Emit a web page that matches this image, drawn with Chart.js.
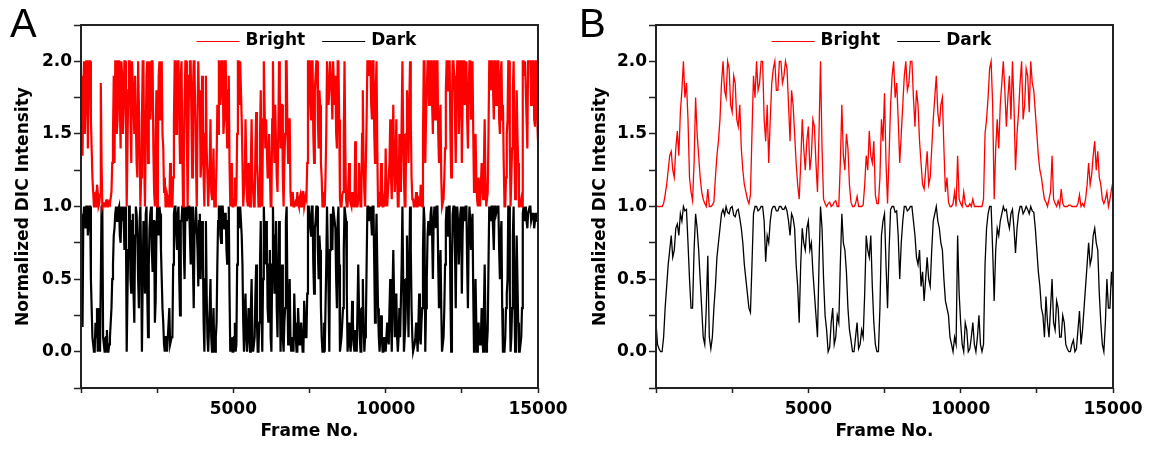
<!DOCTYPE html>
<html>
<head>
<meta charset="utf-8">
<script src="https://cdn.jsdelivr.net/npm/chart.js@4.4.0/dist/chart.umd.min.js"></script>
<style>
  body { margin: 0; background: #fff; width: 1154px; height: 450px; overflow: hidden; position: relative; }
  .panel { position: absolute; top: 0; width: 577px; height: 450px; }
  .tag { position: absolute; font-family: "Liberation Sans", Arial, sans-serif; font-size: 40px; line-height: 40px; color: #000; }
</style>
</head>
<body>
<div class="panel" style="left:0"><canvas id="chartA" width="577" height="450"></canvas></div>
<div class="panel" style="left:577px"><canvas id="chartB" width="577" height="450"></canvas></div>
<div class="tag" style="left:10px;top:3px">A</div>
<div class="tag" style="left:579px;top:3px">B</div>
<script>
// Panel A: one sample every 25 frames, 0..15000
const stepA = 25;
const brightA = [
  1.9, 1.6, 1.35, 1.8, 2.0, 1.5, 1.7, 2.0, 2.0, 1.4,
  1.85, 2.0, 2.0, 1.6, 1.4, 1.2, 1.1, 1.0, 1.0, 1.05,
  1.0, 1.15, 1.1, 1.0, 1.02, 1.08, 1.85, 1.3, 1.0, 1.02,
  1.03, 1.0, 1.0, 1.04, 1.05, 1.0, 1.0, 1.03, 1.02, 1.06,
  1.1, 1.3, 1.5, 1.9, 1.3, 2.0, 2.0, 1.5, 1.6, 2.0,
  2.0, 1.7, 1.4, 2.0, 1.9, 1.5, 1.7, 2.0, 2.0, 1.6,
  1.0, 1.4, 1.8, 2.0, 2.0, 1.6, 1.3, 2.0, 2.0, 1.7,
  1.5, 1.9, 1.9, 1.3, 1.2, 2.0, 2.0, 1.4, 1.0, 1.2,
  1.6, 2.0, 2.0, 1.3, 1.0, 1.5, 1.9, 2.0, 1.3, 1.8,
  2.0, 1.6, 1.7, 2.0, 2.0, 1.4, 1.1, 1.0, 1.5, 1.8,
  1.0, 1.4, 1.9, 2.0, 1.6, 1.9, 2.0, 1.5, 1.4, 1.1,
  1.2, 1.0, 1.0, 1.08, 1.05, 1.0, 1.0, 1.3, 1.15, 1.0,
  1.0, 1.2, 1.6, 2.0, 2.0, 1.5, 1.8, 2.0, 2.0, 1.6,
  1.3, 1.9, 2.0, 1.4, 1.0, 1.3, 1.7, 2.0, 2.0, 1.5,
  1.0, 1.5, 1.9, 2.0, 2.0, 1.6, 1.2, 1.8, 2.0, 2.0,
  1.6, 1.3, 1.0, 1.6, 2.0, 1.7, 1.8, 1.2, 1.3, 1.9,
  1.7, 1.2, 1.0, 1.5, 1.9, 1.4, 1.2, 1.0, 1.0, 1.3,
  1.6, 1.1, 1.05, 1.2, 1.4, 1.0, 1.0, 1.1, 1.3, 1.7,
  1.5, 2.0, 2.0, 1.7, 1.8, 2.0, 2.0, 1.5, 1.6, 2.0,
  2.0, 1.6, 1.4, 1.8, 1.9, 1.3, 1.0, 1.05, 1.3, 1.0,
  1.0, 1.05, 1.2, 1.0, 1.05, 1.5, 2.0, 2.0, 1.7, 2.0,
  2.0, 1.6, 1.3, 1.0, 1.0, 1.2, 1.6, 1.3, 1.05, 1.0,
  1.3, 1.1, 1.0, 1.3, 1.6, 1.2, 1.1, 1.0, 1.0, 1.4,
  1.65, 1.3, 1.2, 1.0, 1.0, 1.5, 1.8, 1.2, 1.0, 1.6,
  2.0, 1.7, 1.4, 1.6, 1.6, 1.2, 1.2, 1.5, 1.5, 1.0,
  1.0, 1.6, 2.0, 1.5, 1.3, 1.7, 1.7, 1.2, 1.1, 1.5,
  2.0, 1.8, 1.4, 1.7, 1.7, 1.2, 1.0, 1.3, 1.5, 2.0,
  2.0, 1.5, 1.3, 1.6, 1.6, 1.1, 1.0, 1.0, 1.1, 1.0,
  1.0, 1.03, 1.05, 1.0, 1.1, 1.02, 1.0, 1.06, 1.08, 1.0,
  1.02, 1.1, 1.1, 1.0, 1.0, 1.07, 1.05, 1.3, 2.0, 2.0,
  2.0, 1.7, 1.6, 2.0, 2.0, 1.5, 1.3, 1.8, 1.9, 2.0,
  2.0, 1.6, 1.4, 1.8, 1.7, 1.3, 1.2, 1.0, 1.0, 1.1,
  1.0, 1.2, 1.5, 2.0, 2.0, 1.7, 1.8, 2.0, 2.0, 1.8,
  1.6, 2.0, 2.0, 1.7, 1.9, 1.5, 1.4, 2.0, 2.0, 1.6,
  1.05, 1.0, 1.0, 1.08, 1.1, 1.5, 2.0, 1.4, 1.05, 1.0,
  1.0, 1.15, 1.3, 1.05, 1.02, 1.0, 1.1, 1.02, 1.0, 1.0,
  1.45, 1.1, 1.0, 1.0, 1.05, 1.3, 1.3, 1.0, 1.0, 1.5,
  1.8, 1.3, 1.1, 1.0, 1.0, 1.6, 2.0, 2.0, 1.9, 2.0,
  2.0, 1.7, 1.6, 2.0, 2.0, 1.5, 1.3, 1.8, 2.0, 1.4,
  1.0, 1.05, 1.1, 1.0, 1.3, 1.2, 1.0, 1.0, 1.05, 1.0,
  1.4, 1.1, 1.0, 1.0, 1.2, 1.3, 1.6, 1.2, 1.05, 1.4,
  1.7, 1.3, 1.1, 1.3, 1.6, 1.2, 1.0, 1.0, 1.5, 1.2,
  1.1, 1.6, 2.0, 1.5, 1.2, 1.0, 1.0, 1.5, 1.8, 1.6,
  1.3, 1.7, 2.0, 1.6, 1.2, 1.05, 1.05, 1.0, 1.0, 1.02,
  1.1, 1.0, 1.0, 1.06, 1.05, 1.0, 1.15, 1.03, 1.0, 1.5,
  2.0, 2.0, 1.3, 1.6, 1.6, 2.0, 2.0, 1.7, 1.9, 2.0,
  2.0, 1.7, 1.5, 2.0, 2.0, 1.6, 1.8, 2.0, 2.0, 1.5,
  1.3, 1.6, 1.7, 1.2, 1.0, 1.0, 1.05, 1.2, 1.4, 1.8,
  2.0, 2.0, 1.8, 2.0, 2.0, 1.5, 1.2, 1.7, 2.0, 2.0,
  1.9, 1.6, 1.3, 1.8, 2.0, 2.0, 1.5, 1.7, 2.0, 2.0,
  1.3, 1.7, 2.0, 2.0, 1.7, 1.9, 2.0, 1.6, 1.4, 1.8,
  2.0, 2.0, 1.6, 1.8, 2.0, 1.5, 1.1, 1.3, 1.5, 1.2,
  1.05, 1.0, 1.2, 1.1, 1.0, 1.0, 1.3, 1.15, 1.05, 1.3,
  1.6, 1.2, 1.0, 1.0, 1.1, 1.5, 2.0, 2.0, 1.8, 2.0,
  2.0, 1.8, 1.6, 2.0, 2.0, 1.7, 1.9, 2.0, 2.0, 1.6,
  1.5, 1.9, 2.0, 1.6, 1.7, 1.3, 1.0, 1.0, 1.2, 1.5,
  1.6, 2.0, 2.0, 1.4, 1.0, 1.2, 1.4, 1.8, 2.0, 1.5,
  1.05, 1.3, 1.8, 1.5, 1.3, 1.0, 1.0, 1.02, 1.05, 1.0,
  2.0, 2.0, 1.9, 2.0, 2.0, 1.6, 1.4, 2.0, 2.0, 2.0,
  2.0, 1.7, 1.8, 2.0, 2.0, 1.6, 1.55, 2.0, 2.0, 1.6,
  1.45
];
const darkA = [
  0.95, 0.6, 0.17, 0.9, 1.0, 0.9, 0.85, 1.0, 1.0, 0.8,
  0.9, 1.0, 1.0, 0.5, 0.3, 0.1, 0.05, 0.0, 0.0, 0.2,
  0.1, 0.3, 0.0, 0.15, 0.3, 0.0, 0.0, 1.0, 1.0, 0.1,
  0.05, 0.0, 0.0, 0.1, 0.15, 0.0, 0.0, 0.05, 0.1, 0.2,
  0.3, 0.5, 0.6, 0.8, 0.85, 0.95, 1.0, 0.9, 0.9, 0.98,
  1.0, 0.8, 0.75, 0.95, 1.0, 0.9, 0.95, 0.7, 1.0, 0.85,
  0.0, 0.4, 0.7, 1.0, 1.0, 0.5, 0.4, 0.9, 0.95, 0.4,
  0.2, 0.8, 1.0, 0.95, 0.8, 0.5, 0.3, 0.9, 1.0, 0.6,
  0.0, 0.5, 0.9, 0.7, 0.4, 0.95, 1.0, 0.4, 0.1, 0.6,
  0.85, 0.95, 1.0, 0.7, 0.55, 0.9, 0.9, 0.2, 0.35, 0.8,
  1.0, 0.9, 0.8, 1.0, 0.95, 0.7, 0.5, 0.3, 0.2, 0.05,
  0.0, 0.1, 0.1, 0.0, 0.0, 0.2, 0.3, 0.05, 0.05, 0.1,
  0.1, 0.6, 0.95, 1.0, 1.0, 0.8, 0.7, 0.95, 1.0, 0.5,
  0.25, 0.9, 0.9, 1.0, 1.0, 0.7, 0.5, 0.95, 1.0, 0.9,
  0.95, 1.0, 1.0, 0.8, 0.6, 0.95, 1.0, 0.6, 0.3, 0.8,
  0.9, 1.0, 1.0, 0.7, 0.45, 0.9, 0.95, 0.5, 0.7, 0.9,
  0.7, 0.2, 0.0, 0.5, 0.9, 0.4, 0.1, 0.0, 0.0, 0.3,
  0.5, 0.1, 0.0, 0.15, 0.3, 0.0, 0.0, 0.1, 0.2, 0.6,
  0.9, 1.0, 1.0, 0.8, 0.75, 1.0, 1.0, 0.9, 0.85, 0.95,
  0.95, 0.7, 0.6, 0.9, 1.0, 0.4, 0.0, 0.05, 0.1, 0.0,
  0.0, 0.1, 0.2, 0.0, 0.05, 0.6, 1.0, 0.95, 0.85, 1.0,
  1.0, 0.8, 0.6, 0.2, 0.0, 0.3, 0.4, 0.1, 0.0, 0.0,
  0.3, 0.1, 0.0, 0.3, 0.5, 0.1, 0.0, 0.0, 0.1, 0.4,
  0.6, 0.2, 0.0, 0.0, 0.2, 0.6, 0.9, 0.3, 0.0, 0.5,
  1.0, 0.8, 0.6, 0.9, 0.8, 0.3, 0.2, 0.6, 0.7, 0.1,
  0.0, 0.6, 1.0, 0.7, 0.4, 0.8, 0.9, 0.3, 0.1, 0.5,
  0.9, 0.5, 0.0, 0.3, 0.6, 0.1, 0.0, 0.2, 0.3, 0.9,
  1.0, 0.4, 0.05, 0.3, 0.5, 0.1, 0.0, 0.0, 0.1, 0.0,
  0.4, 0.2, 0.1, 0.0, 0.0, 0.3, 0.3, 0.05, 0.05, 0.2,
  0.2, 0.0, 0.0, 0.35, 0.35, 0.1, 0.1, 0.4, 1.0, 1.0,
  0.95, 0.85, 0.8, 1.0, 1.0, 0.6, 0.4, 0.85, 0.9, 1.0,
  1.0, 0.7, 0.5, 0.8, 0.7, 0.3, 0.1, 0.0, 0.0, 0.2,
  0.0, 0.3, 0.6, 1.0, 1.0, 0.4, 0.0, 0.7, 0.95, 0.85,
  0.7, 1.0, 1.0, 0.9, 0.85, 0.5, 0.3, 0.9, 1.0, 0.6,
  0.0, 0.05, 0.1, 0.2, 0.3, 0.7, 1.0, 0.95, 0.9, 0.4,
  0.0, 0.1, 0.2, 0.05, 0.0, 0.1, 0.35, 0.2, 0.05, 0.0,
  0.15, 0.05, 0.0, 0.3, 0.6, 0.3, 0.1, 0.0, 0.0, 0.3,
  0.5, 0.2, 0.0, 0.1, 0.2, 0.6, 1.0, 1.0, 0.9, 0.95,
  1.0, 0.9, 0.8, 1.0, 1.0, 0.6, 0.2, 0.7, 0.95, 0.6,
  0.3, 0.1, 0.0, 0.1, 0.25, 0.1, 0.0, 0.0, 0.1, 0.05,
  0.0, 0.1, 0.2, 0.1, 0.05, 0.3, 0.5, 0.2, 0.0, 0.4,
  0.7, 0.4, 0.1, 0.3, 0.4, 0.1, 0.0, 0.1, 0.3, 0.1,
  0.1, 0.6, 1.0, 0.5, 0.0, 0.1, 0.2, 0.5, 0.8, 0.4,
  0.1, 0.6, 1.0, 0.7, 0.3, 0.1, 0.0, 0.0, 0.05, 0.1,
  0.2, 0.1, 0.0, 0.2, 0.4, 0.1, 0.05, 0.2, 0.3, 0.7,
  1.0, 0.9, 0.0, 0.3, 0.5, 0.8, 0.9, 0.85, 0.8, 0.95,
  1.0, 0.8, 0.5, 0.9, 1.0, 0.95, 0.85, 1.0, 1.0, 0.6,
  0.3, 0.5, 0.7, 0.3, 0.0, 0.0, 0.1, 0.3, 0.6, 0.9,
  1.0, 0.95, 0.8, 1.0, 1.0, 0.4, 0.0, 0.6, 0.95, 1.0,
  1.0, 0.7, 0.3, 0.8, 1.0, 0.9, 0.6, 0.8, 0.95, 1.0,
  0.4, 0.8, 1.0, 0.95, 0.9, 1.0, 1.0, 0.6, 0.3, 0.8,
  1.0, 0.9, 0.7, 0.85, 0.95, 0.4, 0.0, 0.2, 0.5, 0.2,
  0.0, 0.1, 0.2, 0.05, 0.05, 0.1, 0.3, 0.1, 0.0, 0.3,
  0.6, 0.2, 0.0, 0.05, 0.15, 0.6, 1.0, 0.95, 0.9, 1.0,
  1.0, 0.85, 0.7, 1.0, 1.0, 0.95, 0.95, 1.0, 1.0, 0.7,
  0.5, 0.8, 0.9, 0.3, 0.0, 0.0, 0.0, 0.1, 0.3, 0.4,
  0.5, 1.0, 1.0, 0.4, 0.0, 0.1, 0.3, 0.8, 1.0, 0.4,
  0.0, 0.4, 0.8, 0.5, 0.2, 0.0, 0.0, 0.05, 0.1, 0.3,
  0.95, 1.0, 0.9, 0.95, 1.0, 0.9, 0.85, 0.95, 0.95, 1.0,
  1.0, 0.9, 0.9, 0.95, 0.95, 0.85, 0.85, 0.95, 0.95, 0.9,
  0.9
];

// Panel B: one sample every 50 frames, 0..15000
const stepB = 50;
const brightB = [
  1.0, 1.0, 1.0, 1.0, 1.0, 1.02, 1.08, 1.15, 1.25, 1.35,
  1.38, 1.25, 1.2, 1.4, 1.52, 1.35, 1.65, 1.8, 2.0, 1.75,
  1.85, 1.6, 1.2, 1.1, 1.04, 1.3, 1.75, 1.5, 1.35, 1.2,
  1.1, 1.05, 1.02, 1.0, 1.12, 1.0, 1.0, 1.01, 1.03, 1.2,
  1.35, 1.45, 1.6, 1.85, 2.0, 1.8, 1.75, 2.0, 1.95, 1.7,
  1.65, 1.9, 1.85, 1.6, 1.55, 1.7, 1.4, 1.25, 1.15, 1.1,
  1.05, 1.02, 1.08, 1.5, 1.9, 1.75, 2.0, 1.8, 1.85, 2.0,
  2.0, 1.6, 1.45, 1.7, 1.3, 1.6, 1.85, 1.95, 2.0, 1.8,
  1.8, 2.0, 2.0, 1.85, 1.9, 2.0, 1.95, 1.7, 1.45, 1.8,
  1.7, 1.5, 1.3, 1.15, 1.05, 1.3, 1.6, 1.4, 1.25, 1.45,
  1.55, 1.25, 1.35, 1.6, 1.55, 1.3, 1.1, 1.5, 2.0, 1.4,
  1.05, 1.02, 1.0, 1.02, 1.03, 1.0, 1.01, 1.03, 1.04, 1.0,
  1.0, 1.3, 1.7, 1.35, 1.25, 1.5, 1.4, 1.15, 1.03, 1.0,
  1.0, 1.02, 1.07, 1.0, 1.0, 1.0, 1.01, 1.15, 1.35, 1.25,
  1.52, 1.35, 1.3, 1.45, 1.08, 1.02, 1.02, 1.2, 1.6, 1.45,
  1.78, 1.3, 1.02, 1.35, 1.7, 1.9, 2.0, 1.75, 1.85, 1.6,
  1.3, 1.5, 1.7, 1.9, 2.0, 1.8, 1.85, 2.0, 2.0, 1.75,
  1.55, 1.8, 1.7, 1.45, 1.3, 1.15, 1.12, 1.25, 1.38, 1.15,
  1.2, 1.4, 1.6, 1.75, 1.9, 1.65, 1.55, 1.7, 1.75, 1.4,
  1.1, 1.2, 1.03, 1.0, 1.0, 1.02, 1.1, 1.0, 1.35, 1.05,
  1.02, 1.0, 1.1, 1.02, 1.0, 1.0, 1.02, 1.0, 1.05, 1.0,
  1.0, 1.0, 1.0, 1.0, 1.0, 1.05, 1.5, 1.6, 1.75, 1.95,
  2.0, 1.7, 1.05, 1.4, 1.6, 1.4, 1.7, 1.85, 2.0, 1.8,
  1.55, 1.75, 1.9, 1.6, 2.0, 1.7, 1.25, 1.5, 1.65, 1.85,
  2.0, 1.6, 1.7, 1.95, 1.9, 1.65, 2.0, 1.85, 1.8, 1.65,
  1.5, 1.35, 1.25, 1.2, 1.12, 1.05, 1.03, 1.0, 1.05, 1.1,
  1.35, 1.05, 1.02, 1.0, 1.04, 1.0, 1.12, 1.02, 1.0, 1.0,
  1.0, 1.01, 1.01, 1.0, 1.0, 1.0, 1.0, 1.02, 1.08, 1.0,
  1.02, 1.0, 1.05, 1.15, 1.3, 1.15, 1.22, 1.35, 1.45, 1.25,
  1.38, 1.2, 1.15, 1.05, 1.02, 1.05, 1.1, 1.0, 1.05, 1.12,
  1.17
];
const darkB = [
  0.2, 0.05, 0.02, 0.0, 0.0, 0.1, 0.3, 0.45, 0.6, 0.7,
  0.8, 0.65, 0.7, 0.85, 0.88, 0.8, 0.95, 0.9, 1.0, 0.97,
  0.98, 0.75, 0.5, 0.3, 0.3, 0.7, 0.95, 0.85, 0.7, 0.5,
  0.3, 0.1, 0.05, 0.3, 0.66, 0.1, 0.02, 0.1, 0.3, 0.45,
  0.65, 0.75, 0.85, 0.95, 0.98, 0.94, 1.0, 0.96, 0.95, 0.99,
  1.0, 0.94, 0.93, 0.97, 0.98, 0.92, 0.85, 0.75, 0.6, 0.5,
  0.4, 0.3, 0.27, 0.6, 0.95, 1.0, 1.0, 0.97, 0.98, 1.0,
  1.0, 0.9, 0.62, 0.8, 0.75, 0.9, 0.98, 1.0, 1.0, 0.97,
  0.97, 1.0, 1.0, 0.98, 0.98, 1.0, 0.97, 0.9, 0.8, 0.95,
  0.92, 0.85, 0.6, 0.45, 0.2, 0.6, 0.85, 0.75, 0.7, 0.85,
  0.9, 0.7, 0.75, 0.55, 0.4, 0.25, 0.1, 0.6, 1.0, 0.85,
  0.5, 0.25, 0.15, 0.0, 0.03, 0.2, 0.3, 0.05, 0.1, 0.25,
  0.2, 0.6, 0.95, 0.75, 0.7, 0.55, 0.3, 0.15, 0.08, 0.0,
  0.0, 0.1, 0.2, 0.02, 0.05, 0.15, 0.1, 0.4, 0.8, 0.7,
  0.65, 0.8, 0.45, 0.2, 0.05, 0.0, 0.0, 0.3, 0.8, 0.9,
  0.95, 0.6, 0.3, 0.7, 0.98, 1.0, 1.0, 0.96, 0.97, 0.8,
  0.5, 0.75, 0.9, 1.0, 1.0, 0.97, 0.98, 1.0, 1.0, 0.9,
  0.8, 0.65, 0.6, 0.7, 0.45, 0.55, 0.35, 0.5, 0.65, 0.5,
  0.45, 0.7, 0.9, 0.95, 1.0, 0.9, 0.85, 0.75, 0.7, 0.5,
  0.35, 0.3, 0.25, 0.1, 0.05, 0.0, 0.1, 0.05, 0.8, 0.4,
  0.2, 0.05, 0.0, 0.2, 0.15, 0.0, 0.02, 0.1, 0.2, 0.05,
  0.0, 0.1, 0.25, 0.05, 0.0, 0.05, 0.6, 0.85, 0.95, 1.0,
  1.0, 0.7, 0.35, 0.7, 0.85, 0.8, 0.9, 0.95, 1.0, 0.97,
  0.98, 0.9, 0.85, 0.95, 0.98, 0.85, 0.68, 0.85, 0.95, 1.0,
  1.0, 0.95, 0.97, 1.0, 0.98, 0.95, 1.0, 0.97, 0.96, 0.85,
  0.7, 0.55, 0.45, 0.3, 0.25, 0.1, 0.38, 0.2, 0.1, 0.3,
  0.5, 0.2, 0.15, 0.35, 0.3, 0.1, 0.1, 0.25, 0.2, 0.05,
  0.02, 0.0, 0.0, 0.05, 0.08, 0.0, 0.02, 0.15, 0.28, 0.05,
  0.15, 0.3, 0.45, 0.6, 0.75, 0.6, 0.65, 0.8, 0.85, 0.75,
  0.7, 0.4, 0.2, 0.05, 0.0, 0.2, 0.5, 0.3, 0.3, 0.55,
  0.4
];

const xTicks = [5000, 10000, 15000];
const yTicks = [0.0, 0.5, 1.0, 1.5, 2.0];

const tickFont = { family: '"DejaVu Sans", sans-serif', size: 17, weight: 'bold' };
const titleFont = { family: '"DejaVu Sans", sans-serif', size: 17, weight: 'bold' };

// box round the plot area
const frameBox = {
  id: 'frameBox',
  afterDatasetsDraw(chart) {
    const { ctx, chartArea: a } = chart;
    ctx.save();
    ctx.strokeStyle = '#222';
    ctx.lineWidth = 2;
    ctx.strokeRect(a.left, a.top, a.right - a.left, a.bottom - a.top);
    ctx.restore();
  }
};

// legend drawn inside the plot, at its top
const insideLegend = {
  id: 'insideLegend',
  afterDraw(chart) {
    const { ctx, chartArea: a } = chart;
    ctx.save();
    ctx.font = 'bold 17px "DejaVu Sans", sans-serif';
    ctx.textBaseline = 'middle';
    const lineLen = 43, gapText = 6, gapItem = 17;
    const items = chart.data.datasets.map(ds => ({
      label: ds.label, color: ds.borderColor, w: ctx.measureText(ds.label).width
    }));
    const total = items.reduce((s, it) => s + lineLen + gapText + it.w, 0) + gapItem * (items.length - 1);
    let x = (a.left + a.right) / 2 - total / 2 - 3;
    const y = a.top + 16;
    items.forEach(it => {
      ctx.strokeStyle = it.color;
      ctx.lineWidth = 1;
      ctx.beginPath();
      ctx.moveTo(x, y + 0.5);
      ctx.lineTo(x + lineLen, y + 0.5);
      ctx.stroke();
      ctx.fillStyle = '#000';
      ctx.fillText(it.label, x + lineLen + gapText, y);
      x += lineLen + gapText + it.w + gapItem;
    });
    ctx.restore();
  }
};

function makeChart(id, bright, dark, step, yWidth, padRight, lineW) {
  const toPoints = arr => arr.map((v, i) => ({ x: i * step, y: v }));
  return new Chart(document.getElementById(id), {
    type: 'line',
    data: {
      datasets: [
        { label: 'Bright', data: toPoints(bright), borderColor: '#ff0000', borderWidth: lineW },
        { label: 'Dark', data: toPoints(dark), borderColor: '#000000', borderWidth: lineW }
      ]
    },
    options: {
      responsive: false,
      animation: false,
      devicePixelRatio: 1,
      layout: { padding: { top: 25, right: padRight, left: 0, bottom: 0 } },
      elements: { point: { radius: 0 }, line: { tension: 0, borderJoinStyle: 'miter' } },
      plugins: { legend: { display: false }, tooltip: { enabled: false } },
      scales: {
        x: {
          type: 'linear', min: 0, max: 15000,
          afterFit: s => { s.height = 62; },
          ticks: {
            stepSize: 2500, autoSkip: false, maxRotation: 0, padding: 6,
            color: '#000', font: tickFont,
            callback: v => xTicks.includes(v) ? String(v) : ''
          },
          grid: { drawOnChartArea: false, drawTicks: true, tickLength: 5, tickColor: '#222', tickWidth: 1.5 },
          border: { display: false },
          title: { display: true, text: 'Frame No.', color: '#000', font: titleFont, padding: { top: 0, bottom: 8 } }
        },
        y: {
          min: -0.25, max: 2.25,
          afterFit: s => { s.width = yWidth; },
          ticks: {
            stepSize: 0.25, autoSkip: false, padding: 2,
            color: '#000', font: tickFont,
            callback: v => {
              const hit = yTicks.find(t => Math.abs(t - v) < 1e-6);
              return hit === undefined ? '' : hit.toFixed(1);
            }
          },
          grid: { drawOnChartArea: false, drawTicks: true, tickLength: 7, tickColor: '#222', tickWidth: 1.5 },
          border: { display: false },
          title: { display: true, text: 'Normalized DIC Intensity', color: '#000', font: titleFont, padding: { top: 13, bottom: 0 } }
        }
      }
    },
    plugins: [frameBox, insideLegend]
  });
}

makeChart('chartA', brightA, darkA, stepA, 81, 39, 2.2);
makeChart('chartB', brightB, darkB, stepB, 79, 41, 1.3);
</script>
</body>
</html>
